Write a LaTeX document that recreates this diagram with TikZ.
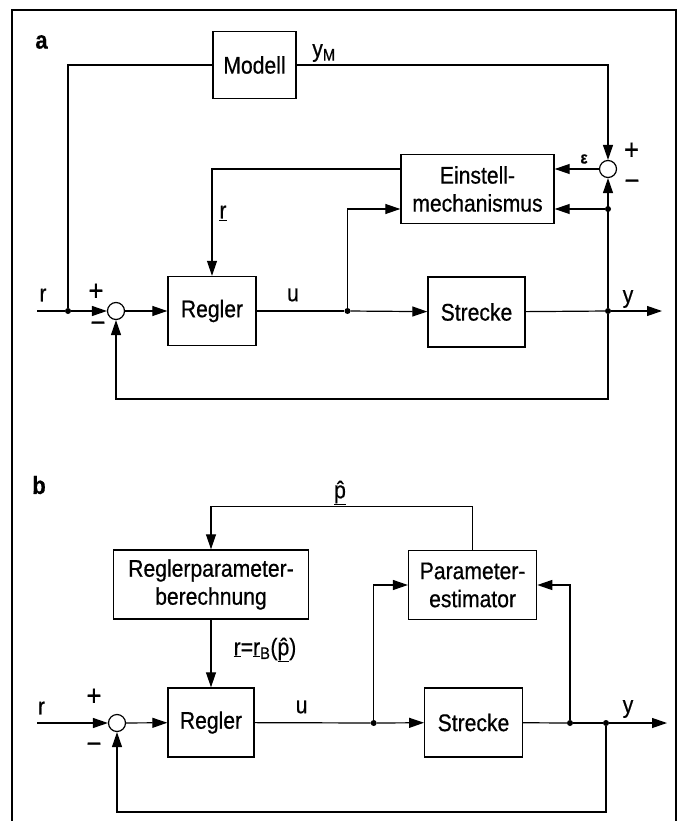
\documentclass[tikz,border=0pt]{standalone}
\usepackage{fontspec}
\setmainfont{Liberation Sans}[FakeStretch=0.88, FakeBold=0.6]
\usetikzlibrary{arrows.meta}

\tikzset{
  blk/.style={draw, line width=1.4pt, align=center, inner sep=0pt, font=\fontsize{24}{28}\selectfont},
  sumpt/.style={draw, circle, line width=1.2pt, minimum size=17pt, inner sep=0pt, fill=white},
  dotpt/.style={circle, fill=black, minimum size=6pt, inner sep=0pt},
  lbl/.style={font=\fontsize{24}{26}\selectfont, inner sep=0pt},
  sgn/.style={font=\fontsize{29}{30}\selectfont, inner sep=0pt},
  ttl/.style={font=\fontsize{25}{28}\selectfont\bfseries, inner sep=0pt},
  wire/.style={line width=1.2pt},
  sig/.style={line width=1.2pt, -{Triangle[length=15pt,width=10pt]}},
}

\begin{document}
\begin{tikzpicture}[x=1pt, y=-1pt]
  \useasboundingbox (0,0) rectangle (683,821);
  \draw [line width=1.4pt] (12,821) -- (12,10) -- (676,10) -- (676,821);

  % a
  \node [ttl] (ta) at (41.5,42) {a};
  \node [blk, minimum width=83pt, minimum height=67pt] (modA) at (254.5,65) {Modell};
  \node [blk, minimum width=153pt, minimum height=69pt] (einA) at (477.5,189) {Einstell-\\mechanismus};
  \node [blk, minimum width=88pt, minimum height=69pt] (regA) at (212,311) {Regler};
  \node [blk, minimum width=97pt, minimum height=70pt] (strA) at (476.5,312) {Strecke};
  \node [sumpt] (sumA) at (116,311) {};
  \node [sumpt] (cmpA) at (608,169) {};
  \node [dotpt] (rA) at (68,311) {};
  \node [dotpt] (uA) at (347.5,311) {};
  \node [dotpt] (yA) at (608,311) {};
  \node [dotpt] (eA) at (608,209) {};
  \coordinate (inA) at (37,311);
  \coordinate (outA) at (662,311);

  \draw [wire] (inA) -- (rA);
  \draw [sig] (rA) -- (sumA);
  \draw [sig] (sumA) -- (regA);
  \draw [wire] (regA) -- (uA);
  \draw [sig] (uA) -- (strA);
  \draw [wire] (strA) -- (yA);
  \draw [sig] (yA) -- (outA);
  \draw [sig] (yA) -- ++(0,88) -| (sumA);
  \draw [wire] (rA) |- (modA);
  \draw [sig] (modA) -| (cmpA);
  \draw [sig] (cmpA) -- (cmpA -| einA.east);
  \draw [sig] (yA) -- (cmpA);
  \draw [sig] (eA) -- (eA -| einA.east);
  \draw [sig] (uA) |- (einA.west |- eA);
  \draw [sig] (einA.west |- cmpA) -| (regA);

  \node [lbl] (lyM) at (324,53) {y\textsubscript{M}};
  \node [lbl, font=\fontsize{17}{18}\selectfont\bfseries] (leps) at (584,159) {ε};
  \node [sgn] (lpA2) at (631.5,151) {+};
  \node [sgn] (lmA2) at (632,185) {−};
  \node [lbl] (lrvA) at (223,213) {\underline{r}};
  \node [lbl] (lrA) at (43,295) {r};
  \node [sgn] (lpA1) at (96,292) {+};
  \node [sgn] (lmA1) at (98,327) {−};
  \node [lbl] (luA) at (293,295) {u};
  \node [lbl] (lyA) at (628,299) {y};

  % b
  \node [ttl] (tb) at (39,485) {b};
  \node [blk, minimum width=195pt, minimum height=69pt] (rpB) at (211,584.5) {Reglerparameter-\\berechnung};
  \node [blk, minimum width=128pt, minimum height=69pt] (peB) at (472.6,585) {Parameter-\\estimator};
  \node [blk, minimum width=86pt, minimum height=69pt] (regB) at (211,722.5) {Regler};
  \node [blk, minimum width=97.5pt, minimum height=69pt] (strB) at (473.5,722.5) {Strecke};
  \node [sumpt] (sumB) at (117,723) {};
  \node [dotpt] (uB) at (373.7,723) {};
  \node [dotpt] (zB) at (570,723) {};
  \node [dotpt] (yB) at (606,723) {};
  \coordinate (inB) at (37,723);
  \coordinate (outB) at (667,723);

  \draw [sig] (inB) -- (sumB);
  \draw [sig] (sumB) -- (regB);
  \draw [wire] (regB) -- (uB);
  \draw [sig] (uB) -- (strB);
  \draw [wire] (strB) -- (zB);
  \draw [wire] (zB) -- (yB);
  \draw [sig] (yB) -- (outB);
  \draw [sig] (yB) -- ++(0,89) -| (sumB);
  \draw [sig] (uB) |- (peB);
  \draw [sig] (zB) |- (peB);
  \draw [sig] (peB.north) -- ++(0,-43) -| (rpB.north);
  \draw [sig] (rpB) -- (regB);

  \node [lbl] (lpB) at (340,493) {\underline{\^{p}}};
  \node [lbl] (lrB) at (265,650) {\underline{r}=\underline{r}\textsubscript{B}(\underline{\^{p}})};
  \node [lbl] (lrinB) at (41.5,708) {r};
  \node [sgn] (lpB1) at (94,697) {+};
  \node [sgn] (lmB1) at (94,748) {−};
  \node [lbl] (luB) at (301.6,707) {u};
  \node [lbl] (lyB) at (628,709) {y};
\end{tikzpicture}
\end{document}
